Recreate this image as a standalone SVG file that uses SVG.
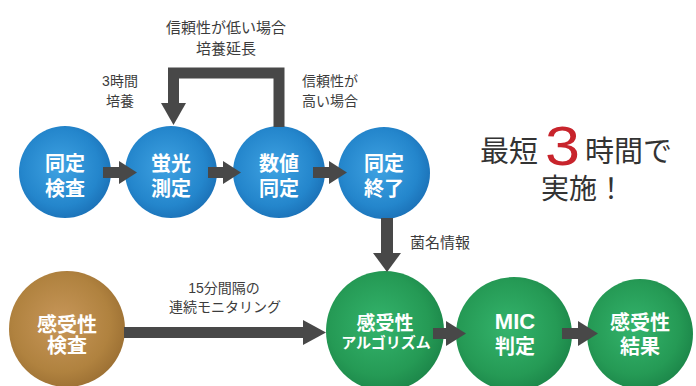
<svg xmlns="http://www.w3.org/2000/svg" width="696" height="386" viewBox="0 0 696 386">
<defs>
<radialGradient id="gBlue" cx="0.45" cy="0.45" r="0.6">
<stop offset="0" stop-color="#3fa2e2"/>
<stop offset="0.7" stop-color="#2486cc"/>
<stop offset="1" stop-color="#1a6fb5"/>
</radialGradient>
<radialGradient id="gGreen" cx="0.45" cy="0.45" r="0.6">
<stop offset="0" stop-color="#34b46c"/>
<stop offset="0.7" stop-color="#259a55"/>
<stop offset="1" stop-color="#1b8448"/>
</radialGradient>
<radialGradient id="gBrown" cx="0.45" cy="0.45" r="0.6">
<stop offset="0" stop-color="#c8975a"/>
<stop offset="0.7" stop-color="#b0823f"/>
<stop offset="1" stop-color="#9a6e32"/>
</radialGradient>
</defs>
<style>
.lbl{font-family:"Liberation Sans","Noto Sans CJK JP",sans-serif;fill:#3c3c3c;font-size:14px}
.nt{font-family:"Liberation Sans","Noto Sans CJK JP",sans-serif;fill:#ffffff;font-weight:bold;font-size:20px;text-anchor:middle}
.big{font-family:"Liberation Sans","Noto Sans CJK JP",sans-serif;fill:#333333;font-size:29px}
.arr{fill:#484848}
</style>
<rect width="696" height="386" fill="#ffffff"/>

<g id="n-dotei-kensa"><circle cx="65" cy="172" r="46" fill="url(#gBlue)"/><text class="nt" x="65" y="171">同定</text><text class="nt" x="65" y="196">検査</text></g>
<g id="n-keiko"><circle cx="171" cy="172" r="46" fill="url(#gBlue)"/><text class="nt" x="171" y="171">蛍光</text><text class="nt" x="171" y="196">測定</text></g>
<g id="n-suchi"><circle cx="279" cy="172" r="46" fill="url(#gBlue)"/><text class="nt" x="279" y="171">数値</text><text class="nt" x="279" y="196">同定</text></g>
<g id="n-shuryo"><circle cx="384" cy="173" r="46" fill="url(#gBlue)"/><text class="nt" x="384" y="171">同定</text><text class="nt" x="384" y="196">終了</text></g>

<g id="n-kanjusei-kensa"><ellipse cx="67" cy="329" rx="58" ry="58" fill="url(#gBrown)"/><text class="nt" x="67" y="332">感受性</text><text class="nt" x="67" y="353">検査</text></g>
<g id="n-algo"><ellipse cx="385" cy="331" rx="59" ry="60" fill="url(#gGreen)"/><text class="nt" x="385" y="330" style="font-size:19px">感受性</text><text class="nt" x="386" y="348" style="font-size:15px">アルゴリズム</text></g>
<g id="n-mic"><ellipse cx="514" cy="334" rx="58" ry="57" fill="url(#gGreen)"/><text class="nt" x="515" y="329" style="font-size:22px">MIC</text><text class="nt" x="515" y="354">判定</text></g>
<g id="n-kekka"><ellipse cx="640" cy="334" rx="53" ry="55" fill="url(#gGreen)"/><text class="nt" x="640" y="330">感受性</text><text class="nt" x="640" y="354">結果</text></g>

<g id="connectors">
<rect class="arr" x="103" y="167" width="17" height="11"/><polygon class="arr" points="119,161 137,172.5 119,184"/>
<rect class="arr" x="208" y="167" width="16" height="11"/><polygon class="arr" points="223,161 241,172.5 223,184"/>
<rect class="arr" x="313" y="167" width="17" height="11"/><polygon class="arr" points="329,161 347,172.5 329,184"/>
<polyline points="279,127 279,73 173.5,73 173.5,104" fill="none" stroke="#484848" stroke-width="11"/>
<polygon class="arr" points="161,103 186,103 173.5,125"/>
<rect class="arr" x="381" y="218" width="12" height="36"/><polygon class="arr" points="373,253 401,253 387,272"/>
<rect class="arr" x="124" y="327" width="180" height="11"/><polygon class="arr" points="303,320 303,345 326,332.5"/>
<rect class="arr" x="433" y="328" width="14" height="11"/><polygon class="arr" points="446,321 446,346 466,333.5"/>
<rect class="arr" x="562" y="328" width="17" height="11"/><polygon class="arr" points="578,321 578,346 598,333.5"/>
</g>

<g id="labels">
<text class="lbl" x="226" y="33" text-anchor="middle" style="font-size:15px">信頼性が低い場合</text>
<text class="lbl" x="226" y="54" text-anchor="middle" style="font-size:15px">培養延長</text>
<text class="lbl" x="120" y="86" text-anchor="middle">3時間</text>
<text class="lbl" x="120" y="106" text-anchor="middle">培養</text>
<text class="lbl" x="302" y="86">信頼性が</text>
<text class="lbl" x="302" y="106">高い場合</text>
<text class="lbl" x="410" y="248" style="font-size:15px">菌名情報</text>
<text class="lbl" x="224" y="293" text-anchor="middle">15分間隔の</text>
<text class="lbl" x="225" y="312" text-anchor="middle">連続モニタリング</text>
</g>

<g id="headline">
<text class="big" x="480" y="162">最短</text>
<text x="545" y="165" textLength="35" lengthAdjust="spacingAndGlyphs" style="font-family:'Liberation Sans',sans-serif;font-size:56px;fill:#c8242c">3</text>
<text class="big" x="585" y="162">時間で</text>
<text class="big" x="583" y="199" text-anchor="middle" style="font-size:28px">実施！</text>
</g>
</svg>
